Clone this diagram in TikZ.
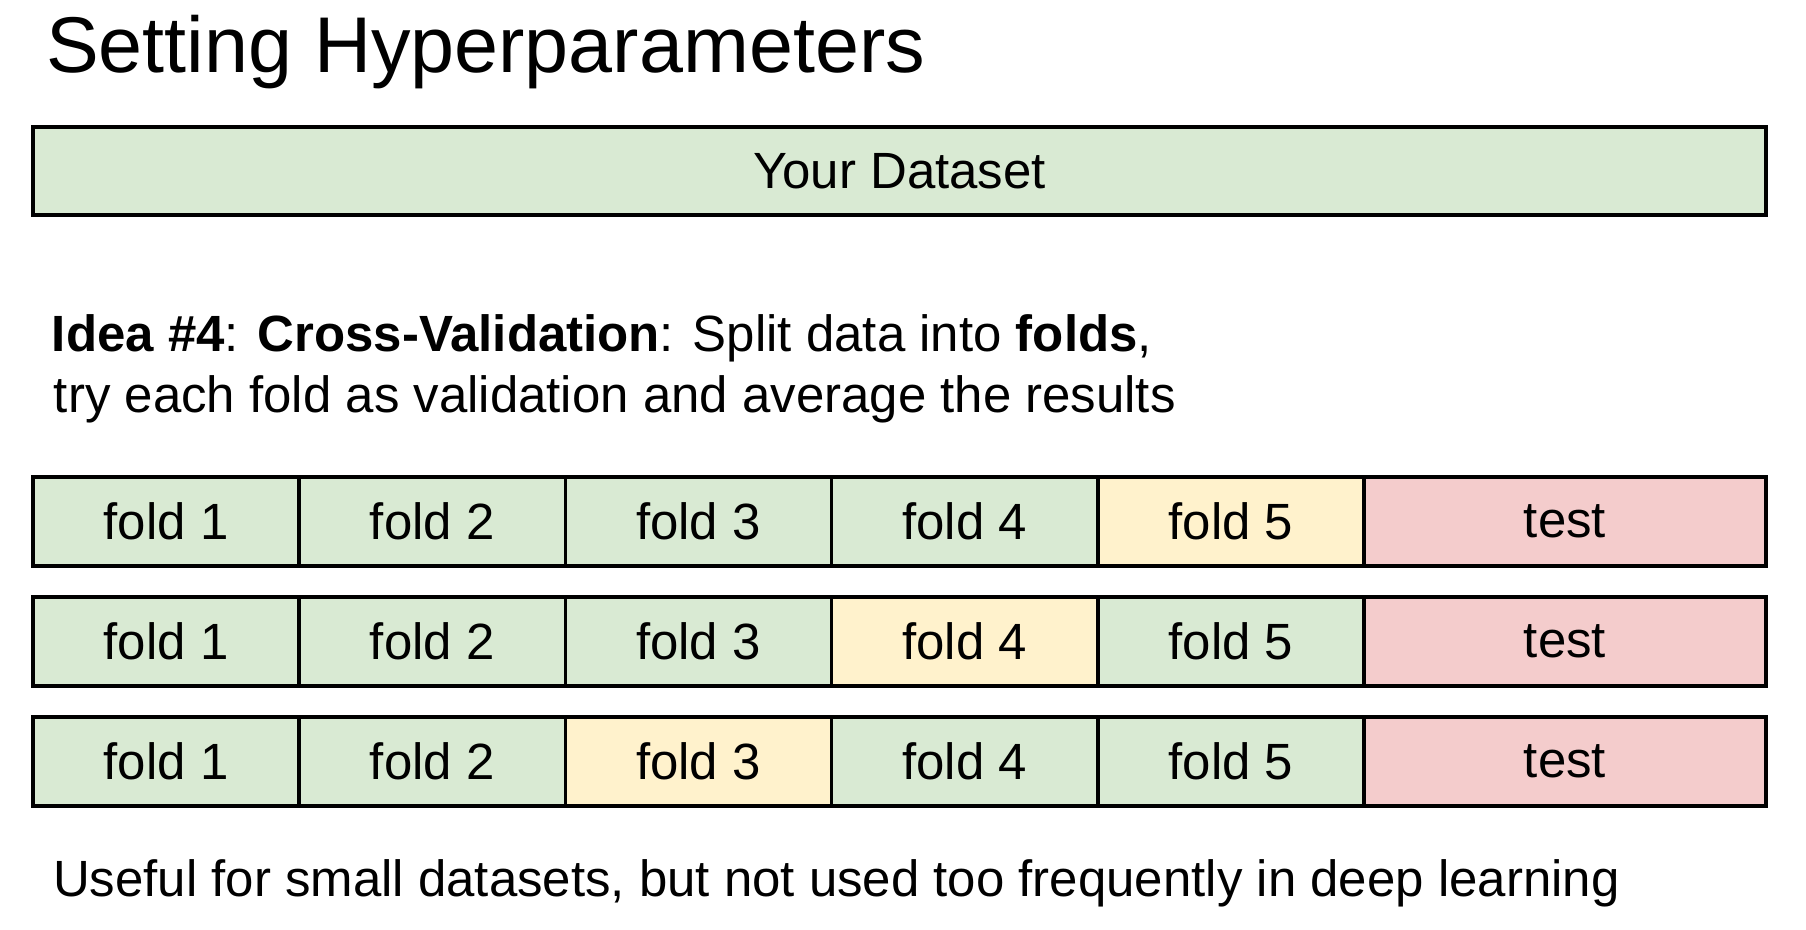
\documentclass[tikz,border=0pt]{standalone}
\usepackage{fontspec}
\setmainfont{Liberation Sans}
\usepackage{tikz}
\usetikzlibrary{positioning}

\definecolor{trainGreen}{HTML}{D9EAD3}
\definecolor{valYellow}{HTML}{FFF2CC}
\definecolor{testRed}{HTML}{F4CCCC}

\begin{document}
\begin{tikzpicture}[
                body/.style={font=\fontsize{14.5}{17.4}\selectfont, inner sep=0pt, outer sep=0pt}, % plain text
                cell/.style={body, draw, line width=1pt, minimum height=0.89cm, anchor=north west}, % box of a row
                fold/.style={cell, fill=trainGreen, minimum width=2.662cm},
                valfold/.style={fold, fill=valYellow}, % the fold used for validation
                testcell/.style={cell, fill=testRed, minimum width=4.02cm}
                ]
                \useasboundingbox (0,0) rectangle (18.06,-9.30);
                \node[body, anchor=base west, font=\fontsize{22.5}{27}\selectfont] (title) at (0.46,-0.725) {Setting Hyperparameters};
                \node[cell, fill=trainGreen, minimum width=17.33cm, minimum height=0.88cm] (dataset) at (0.33,-1.27) {Your Dataset};
                \node[body, anchor=base west] (idea1) at (0.52,-3.52) {\textbf{Idea \#4}: \textbf{Cross-Validation}: Split data into \textbf{folds},};
                \node[body, anchor=base west] (idea2) at (0.54,-4.13) {try each fold as validation and average the results};
                \foreach \r/\v in {1/5,2/4,3/3} {
                    \foreach \f in {1,...,5} {
                        \ifnum\f=\v \def\sty{valfold}\else\def\sty{fold}\fi
                        \node[\sty] (f\r-\f) at ({0.33+2.662*(\f-1)},{-4.77-1.2*(\r-1)}) {fold \f};
                    }
                    \node[testcell] (test\r) at ({0.33+2.662*5},{-4.77-1.2*(\r-1)}) {test};
                }
                \node[body, anchor=base west] (note) at (0.53,-8.97) {Useful for small datasets, but not used too frequently in deep learning};
            \end{tikzpicture}
\end{document}
